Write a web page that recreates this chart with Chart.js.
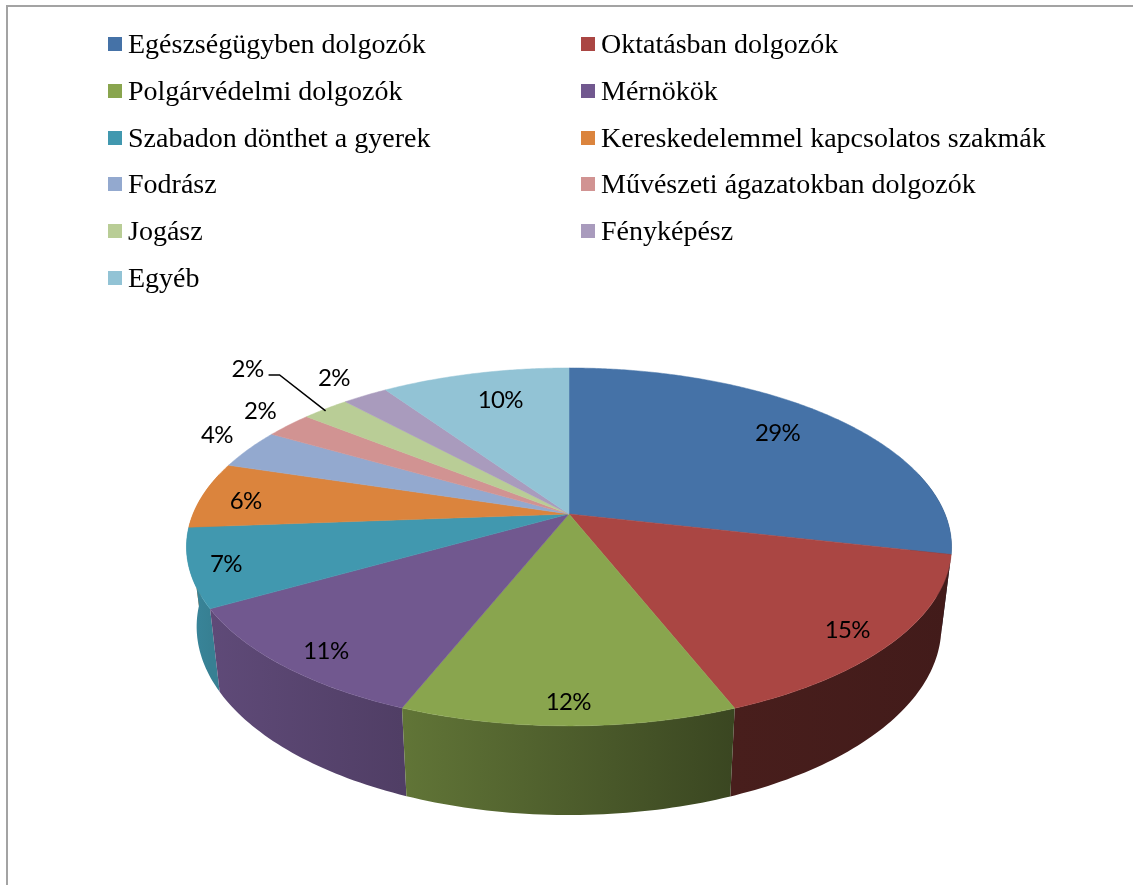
<!DOCTYPE html>
<html>
<head>
<meta charset="utf-8">
<title>Pie</title>
<script src="https://cdn.jsdelivr.net/npm/chart.js@4/dist/chart.umd.min.js"></script>
<style>
    html,body{margin:0;padding:0;background:#fff;overflow:hidden}
    #wrap{position:relative;width:1133px;height:885px}
    #frame{position:absolute;left:6px;top:5px;right:0;bottom:0;border-left:2px solid #a3a3a3;border-top:2px solid #a3a3a3}
    #chart{position:absolute;left:0;top:0}
    #legend{position:absolute;left:108px;top:21px;display:grid;grid-template-columns:473px auto;grid-auto-rows:46.7px;
        font-family:"Liberation Serif",serif;font-size:28px;color:#000}
    #legend div{display:flex;align-items:center;white-space:nowrap;height:46.7px}
    #legend i{display:block;width:14px;height:14px;margin-right:6px}
</style>
</head>
<body>
<div id="wrap">
    <div id="frame"></div>
    <canvas id="chart" width="1133" height="885"></canvas>
    <div id="legend"></div>
</div>
<script>
const categories = ['Egészségügyben dolgozók','Oktatásban dolgozók','Polgárvédelmi dolgozók','Mérnökök',
    'Szabadon dönthet a gyerek','Kereskedelemmel kapcsolatos szakmák','Fodrász','Művészeti ágazatokban dolgozók',
    'Jogász','Fényképész','Egyéb'];
const values = [28.6,15.45,11.95,10.7,7.1,6,3.6,2.4,2.4,2.3,9.5];
const colors = ['#4572a7','#aa4643','#89a54e','#71588f','#4198af','#db843d','#93a9cf','#d19392','#b9cd96','#a99bbd','#92c3d5'];

// where each label sits: radius along the middle of the slice, then a small nudge
const labelPlace = [[.8,-7,-2],[.9,-9,2],[.906,0,0],[.9,10,3],[.9,-3,2],[.87,-4,4],[1.1,-2,-8],[1.15,9,-2],[1,-78,-40],[1.15,-5,-2],[.79,8,1]];
const leaderSlice = 8;

// perspective of the tilted pie, top face and bottom rim
const cx = 569, k = 0.184;
const topFace = {a:376, b:172.9, y:514};
const bottomRim = {a:366, b:182, y:592};

function project(face,angle,r){
    // chart.js angles start at -PI/2 for the top of the pie
    const u = r*Math.cos(angle), v = r*Math.sin(angle), d = 1-k*v;
    return {x:cx+face.a*u/d, y:face.y+face.b*v/d};
}

// how dark the side wall gets going round the front
function sideShade(angle){
    const deg = (angle+Math.PI/2)*180/Math.PI;
    const stops = [[0,.39],[150,.39],[158,.42],[202,.71],[240,.84],[275,.9],[360,.9]];
    for(let i=1;i<stops.length;i++){
        if(deg<=stops[i][0]){
            const t = (deg-stops[i-1][0])/(stops[i][0]-stops[i-1][0]);
            return stops[i-1][1]+t*(stops[i][1]-stops[i-1][1]);
        }
    }
    return .9;
}

function darker(hex,f){
    const n = parseInt(hex.slice(1),16);
    return `rgb(${Math.round((n>>16)*f)},${Math.round(((n>>8)&255)*f)},${Math.round((n&255)*f)})`;
}

function drawSide(ctx,arc,color){
    const step = Math.PI/180;
    const angles = [];
    for(let a=arc.startAngle;a<arc.endAngle;a+=step){
        if(Math.sin(a)>-0.25) angles.push(a);
    }
    if(Math.sin(arc.endAngle)>-0.25) angles.push(arc.endAngle);
    if(angles.length<2) return;

    const first = angles[0], last = angles[angles.length-1];
    const x0 = project(topFace,first,1).x, x1 = project(topFace,last,1).x;
    const grad = ctx.createLinearGradient(x0,0,x1,0);
    grad.addColorStop(0,darker(color,sideShade(first)));
    grad.addColorStop(1,darker(color,sideShade(last)));

    ctx.fillStyle = grad;
    ctx.beginPath();
    angles.forEach((a,i)=>{
        const p = project(topFace,a,1);
        if(i===0) ctx.moveTo(p.x,p.y);
        else ctx.lineTo(p.x,p.y);
    });
    angles.slice().reverse().forEach(a=>{
        const p = project(bottomRim,a,1);
        ctx.lineTo(p.x,p.y);
    });
    ctx.closePath();
    ctx.fill();
}

const pie3d = {
    id:'pie3d',
    beforeDatasetDraw(chart,args){
        const ctx = chart.ctx;
        const arcs = chart.getDatasetMeta(args.index).data;
        const step = Math.PI/360;

        // side wall first, far slices before near ones
        const order = arcs.map((arc,i)=>i).sort((p,q)=>{
            const mp = (arcs[p].startAngle+arcs[p].endAngle)/2;
            const mq = (arcs[q].startAngle+arcs[q].endAngle)/2;
            return Math.sin(mp)-Math.sin(mq);
        });
        order.forEach(i=>drawSide(ctx,arcs[i],colors[i]));

        // top face
        arcs.forEach((arc,i)=>{
            const apex = project(topFace,arc.startAngle,0);
            ctx.fillStyle = colors[i];
            ctx.strokeStyle = colors[i];
            ctx.lineWidth = .5;
            ctx.beginPath();
            ctx.moveTo(apex.x,apex.y);
            for(let a=arc.startAngle;a<arc.endAngle;a+=step){
                const p = project(topFace,a,1);
                ctx.lineTo(p.x,p.y);
            }
            const e = project(topFace,arc.endAngle,1);
            ctx.lineTo(e.x,e.y);
            ctx.closePath();
            ctx.fill();
            ctx.stroke();
        });

        // percent labels
        ctx.fillStyle = '#000';
        ctx.font = '24px Lato';
        ctx.letterSpacing = '-0.6px';
        ctx.textAlign = 'center';
        ctx.textBaseline = 'middle';
        arcs.forEach((arc,i)=>{
            const mid = (arc.startAngle+arc.endAngle)/2;
            const [r,dx,dy] = labelPlace[i];
            const p = project(topFace,mid,r);
            ctx.fillText(Math.round(values[i])+'%',p.x+dx,p.y+dy);
        });

        // leader line for the one label moved away from its slice
        const lead = arcs[leaderSlice];
        const rim = project(topFace,(lead.startAngle+lead.endAngle)/2,1);
        ctx.strokeStyle = '#000';
        ctx.lineWidth = 1.5;
        ctx.beginPath();
        ctx.moveTo(rim.x-57,rim.y-34);
        ctx.lineTo(rim.x-46,rim.y-34);
        ctx.lineTo(rim.x,rim.y+2);
        ctx.stroke();
        return false;
    }
};

const chart = new Chart(document.querySelector('#chart'),{
    type:'pie',
    data:{
        labels:categories,
        datasets:[{data:values,backgroundColor:colors,borderWidth:0}]
    },
    options:{
        responsive:false,
        animation:false,
        plugins:{legend:{display:false},tooltip:{enabled:false}}
    },
    plugins:[pie3d]
});

// legend in two columns, filled row by row
const legend = document.querySelector('#legend');
chart.options.plugins.legend.labels.generateLabels(chart).forEach(item=>{
    const row = document.createElement('div');
    const box = document.createElement('i');
    box.style.background = item.fillStyle;
    row.appendChild(box);
    row.appendChild(document.createTextNode(item.text));
    legend.appendChild(row);
});
</script>
</body>
</html>
